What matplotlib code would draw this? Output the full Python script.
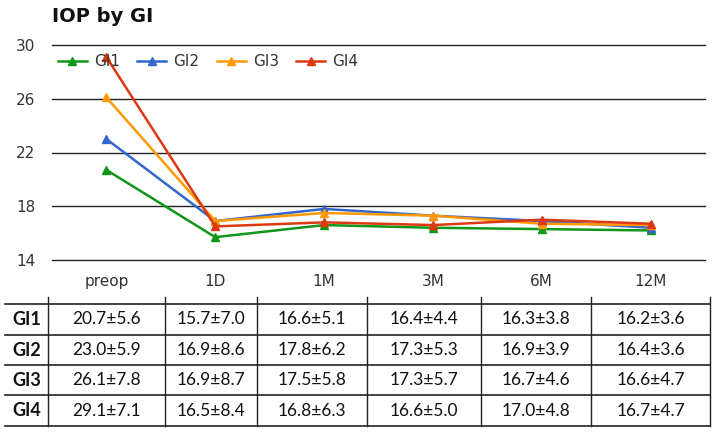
import matplotlib
matplotlib.use("Agg")
import matplotlib.pyplot as plt

# datos
tiempos = ["preop", "1D", "1M", "3M", "6M", "12M"]
grupos = ["GI1", "GI2", "GI3", "GI4"]
gi1_media = [20.7, 15.7, 16.6, 16.4, 16.3, 16.2]
gi2_media = [23.0, 16.9, 17.8, 17.3, 16.9, 16.4]
gi3_media = [26.1, 16.9, 17.5, 17.3, 16.7, 16.6]
gi4_media = [29.1, 16.5, 16.8, 16.6, 17.0, 16.7]
gi1_sd = [5.6, 7.0, 5.1, 4.4, 3.8, 3.6]
gi2_sd = [5.9, 8.6, 6.2, 5.3, 3.9, 3.6]
gi3_sd = [7.8, 8.7, 5.8, 5.7, 4.6, 4.7]
gi4_sd = [7.1, 8.4, 6.3, 5.0, 4.8, 4.7]
y_ticks = [14, 18, 22, 26, 30]

colores = ["#109618", "#3366cc", "#ff9900", "#dc3912"]
medias = [gi1_media, gi2_media, gi3_media, gi4_media]
sds = [gi1_sd, gi2_sd, gi3_sd, gi4_sd]

W, H = 713, 433
fig = plt.figure(figsize=(W / 100, H / 100), dpi=100)

# --- grafico de lineas ---
ax = fig.add_axes([52 / W, 1 - 260 / H, (705 - 52) / W, (260 - 45) / H])
x = list(range(len(tiempos)))
for nombre, m, c in zip(grupos, medias, colores):
    ax.plot(x, m, color=c, marker="^", markersize=6, linewidth=1.8, label=nombre, zorder=3)

ax.set_xlim(-0.5, len(tiempos) - 0.5)
ax.set_ylim(14, 30)
ax.set_yticks(y_ticks)
ax.set_xticks(x)
ax.set_xticklabels(tiempos)
ax.yaxis.grid(True, color="#222222", linewidth=1.0)
for gl in ax.get_ygridlines():
    gl.set_clip_on(False)
ax.set_axisbelow(True)
for s in ax.spines.values():
    s.set_visible(False)
ax.tick_params(axis="both", length=0, labelsize=11, colors="#333333")
ax.tick_params(axis="y", pad=12)
ax.tick_params(axis="x", pad=10)

leg = ax.legend(loc="upper left", bbox_to_anchor=(-0.012, 1.02), ncol=4, frameon=False,
                fontsize=11, handlelength=1.9, columnspacing=1.15, handletextpad=0.45,
                labelcolor="#333333")
leg.set_zorder(5)

fig.text(52 / W, 1 - 16 / H, "IOP by GI", fontsize=14, fontweight="bold",
         va="center", ha="left", color="#111111")

# --- tabla ---
tx = fig.add_axes([0, 0, 1, 1])
tx.set_xlim(0, W)
tx.set_ylim(H, 0)
tx.axis("off")

col_bordes = [48, 165, 257, 367, 481, 591, 710]
fila_bordes = [304, 335, 365, 395, 426]
for yb in fila_bordes:
    tx.plot([5, col_bordes[-1]], [yb, yb], color="#222222", linewidth=1.2)
for xb in col_bordes:
    tx.plot([xb, xb], [297, fila_bordes[-1]], color="#222222", linewidth=1.0)

for i, (nombre, m, s) in enumerate(zip(grupos, medias, sds)):
    yc = (fila_bordes[i] + fila_bordes[i + 1]) / 2
    tx.text(27, yc, nombre, fontsize=13, fontweight="bold", ha="center", va="center",
            family="Lato", color="#111111")
    for j in range(len(tiempos)):
        xc = (col_bordes[j] + col_bordes[j + 1]) / 2
        tx.text(xc, yc, f"{m[j]:.1f}\u00b1{s[j]:.1f}", fontsize=12.5, ha="center", va="center",
                family="Lato", color="#111111")

fig.savefig("out.png", dpi=100)
